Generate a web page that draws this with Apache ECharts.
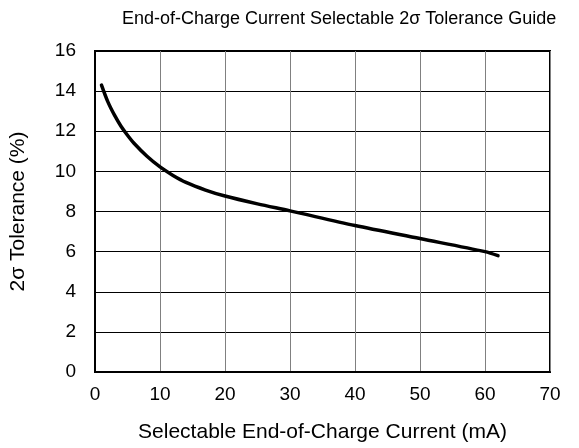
<!DOCTYPE html>
<html>
<head>
<meta charset="utf-8">
<script src="https://cdn.jsdelivr.net/npm/echarts@6/dist/echarts.min.js"></script>
<style>html,body{margin:0;padding:0;background:#fff}#c{width:579px;height:448px}</style>
</head>
<body>
<div id="c"></div>
<script>
const currentMA = [1, 2, 3, 4, 5, 6, 8, 10, 12, 14, 17, 20, 25, 30, 40, 50, 60, 62];
const tolerancePct = [14.3, 13.45, 12.8, 12.25, 11.8, 11.4, 10.75, 10.22, 9.8, 9.45, 9.07, 8.77, 8.38, 8.03, 7.3, 6.65, 6.0, 5.8];
const titleText = 'End-of-Charge Current Selectable 2σ Tolerance Guide';
const xName = 'Selectable End-of-Charge Current (mA)';
const yName = '2σ Tolerance (%)';

const font = 'Liberation Sans, Arial, sans-serif';
const chart = echarts.init(document.getElementById('c'));
chart.setOption({
  animation: false,
  backgroundColor: '#fff',
  title: {
    text: titleText, left: 117, top: 5,
    textStyle: {fontFamily: font, fontSize: 18, fontWeight: 'normal', color: '#000'}
  },
  grid: {left: 95, right: 29, top: 51, bottom: 76, show: true, borderColor: '#000', borderWidth: 2},
  xAxis: {
    type: 'value', min: 0, max: 70, interval: 10,
    name: xName, nameLocation: 'middle', nameGap: 50,
    nameTextStyle: {fontFamily: font, fontSize: 21, color: '#000'},
    axisLine: {show: true, lineStyle: {color: '#000', width: 2}},
    axisTick: {show: false},
    axisLabel: {fontFamily: font, fontSize: 19, color: '#000', margin: 13},
    splitLine: {show: true, lineStyle: {color: '#808080', width: 1}}
  },
  yAxis: {
    type: 'value', min: 0, max: 16, interval: 2,
    name: yName, nameLocation: 'middle', nameGap: 66,
    nameTextStyle: {fontFamily: font, fontSize: 21, color: '#000'},
    axisLine: {show: true, lineStyle: {color: '#000', width: 2}},
    axisTick: {show: false},
    axisLabel: {fontFamily: font, fontSize: 19, color: '#000', margin: 19},
    splitLine: {show: true, lineStyle: {color: '#000', width: 1}}
  },
  series: [{
    type: 'line', data: currentMA.map((x, i) => [x, tolerancePct[i]]),
    smooth: 0.3, showSymbol: false,
    lineStyle: {color: '#000', width: 3.5, cap: 'round'}
  }]
});
</script>
</body>
</html>
